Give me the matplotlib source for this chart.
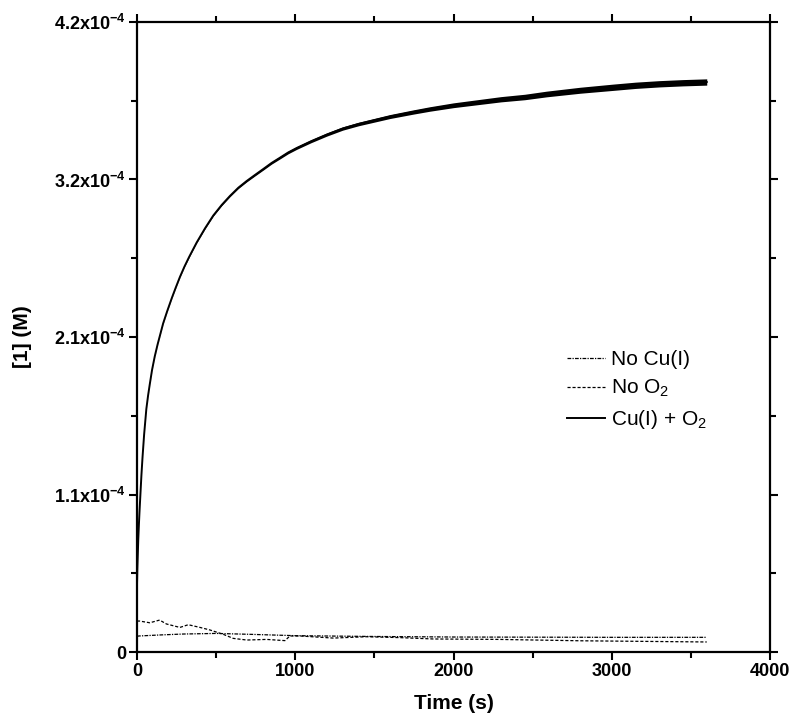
import numpy as np
import matplotlib
matplotlib.use("Agg")
import matplotlib.pyplot as plt
from matplotlib.ticker import MultipleLocator, FixedLocator

plt.rcParams['font.family'] = ['Liberation Sans', 'DejaVu Sans']
plt.rcParams['mathtext.fontset'] = 'custom'
plt.rcParams['mathtext.rm'] = 'Liberation Sans'
plt.rcParams['mathtext.it'] = 'Liberation Sans:italic'
plt.rcParams['mathtext.bf'] = 'Liberation Sans:bold'

# Cu(I) + O2 trace (time in s, [1] in units of 1e-4 M)
t_main = [0, 2, 5, 8, 12, 16, 20, 28, 35, 45, 59, 70, 80, 95, 112, 130, 150, 165,
          190, 220, 245, 271, 300, 330, 377, 430, 482, 535, 587, 640, 693, 745,
          798, 850, 903, 955, 1009, 1100, 1200, 1300, 1400, 1500, 1600, 1746,
          1850, 2000, 2150, 2300, 2450, 2588, 2800, 3009, 3150, 3300, 3450, 3600]
c_main = [0.45, 0.55, 0.65, 0.75, 0.85, 0.94, 1.02, 1.18, 1.30, 1.45, 1.62, 1.71,
          1.78, 1.88, 1.97, 2.05, 2.13, 2.19, 2.27, 2.36, 2.43, 2.50, 2.57, 2.635,
          2.73, 2.825, 2.91, 2.98, 3.04, 3.095, 3.14, 3.18, 3.22, 3.26, 3.295, 3.33,
          3.36, 3.405, 3.45, 3.49, 3.52, 3.545, 3.57, 3.60, 3.62, 3.645, 3.665,
          3.685, 3.70, 3.72, 3.745, 3.765, 3.778, 3.788, 3.795, 3.80]
# noise band half-width of the main trace (1e-4 M)
t_noise = [0, 500, 1000, 2000, 3000, 3600]
w_noise = [0.0, 0.004, 0.009, 0.016, 0.021, 0.021]

# No Cu(I) trace (1e-5 M)
t_nocu = [0, 13, 150, 293, 500, 714, 1000, 1450, 2000, 2500, 3000, 3600]
c_nocu = [1.05, 1.07, 1.14, 1.20, 1.24, 1.18, 1.09, 1.04, 1.00, 0.99, 0.98, 0.98]

# No O2 trace (1e-5 M)
t_noo2 = [0, 13, 81, 143, 186, 271, 324, 398, 461, 545, 608, 693, 819, 935, 966,
          1029, 1240, 1451, 1662, 1872, 2294, 2800, 3300, 3600]
c_noo2 = [2.05, 2.07, 1.95, 2.13, 1.87, 1.64, 1.82, 1.64, 1.47, 1.18, 0.91, 0.80,
          0.84, 0.76, 1.07, 1.07, 0.93, 1.02, 0.96, 0.87, 0.84, 0.75, 0.70, 0.67]

y_ticks = [0, 1.05e-4, 2.1e-4, 3.15e-4, 4.2e-4]
y_labels = ['0', r'$\mathbf{1.1x10^{-4}}$', r'$\mathbf{2.1x10^{-4}}$',
            r'$\mathbf{3.2x10^{-4}}$', r'$\mathbf{4.2x10^{-4}}$']
x_ticks = [0, 1000, 2000, 3000, 4000]

fig = plt.figure(figsize=(7.91, 7.14), dpi=100)
ax = fig.add_axes([0.1732, 0.0868, 0.8003, 0.8824])

tm = np.array(t_main)
cm = np.array(c_main) * 1e-4
band = np.interp(tm, t_noise, w_noise) * 1e-4
ax.fill_between(tm, cm - band, cm + band, color='black', lw=0)
ax.plot(tm, cm, color='black', lw=1.4, label=r'Cu(I) + O$_2$', zorder=3)
ax.plot(t_nocu, np.array(c_nocu) * 1e-5, color='black', lw=0.9,
        ls=(0, (3, 1, 1, 1)), label='No Cu(I)')
ax.plot(t_noo2, np.array(c_noo2) * 1e-5, color='black', lw=0.9,
        ls=(0, (2.5, 1.5)), label=r'No O$_2$')

ax.set_xlim(0, 4000)
ax.set_ylim(0, 4.2e-4)
ax.xaxis.set_major_locator(FixedLocator(x_ticks))
ax.xaxis.set_minor_locator(MultipleLocator(500))
ax.yaxis.set_major_locator(FixedLocator(y_ticks))
ax.yaxis.set_minor_locator(MultipleLocator(0.525e-4))
ax.set_yticklabels(y_labels)

for s in ax.spines.values():
    s.set_linewidth(1.6)
ax.tick_params(which='both', direction='out', top=True, right=True,
               labeltop=False, labelright=False, width=1.5)
ax.tick_params(which='major', length=6, pad=2, labelsize=13)
ax.tick_params(which='minor', length=4)
for lab in ax.get_xticklabels() + ax.get_yticklabels():
    lab.set_fontweight('bold')

ax.set_xlabel('Time (s)', fontsize=15, fontweight='bold', labelpad=10)
ax.set_ylabel('[1] (M)', fontsize=15, fontweight='bold', labelpad=16)

h, l = ax.get_legend_handles_labels()
order = [1, 2, 0]
ax.legend([h[i] for i in order], [l[i] for i in order], loc='center left',
          bbox_to_anchor=(0.663, 0.415), frameon=False, fontsize=15,
          handlelength=1.8, handletextpad=0.33, labelspacing=0.42, borderpad=0)

fig.savefig('out.png', dpi=100)
